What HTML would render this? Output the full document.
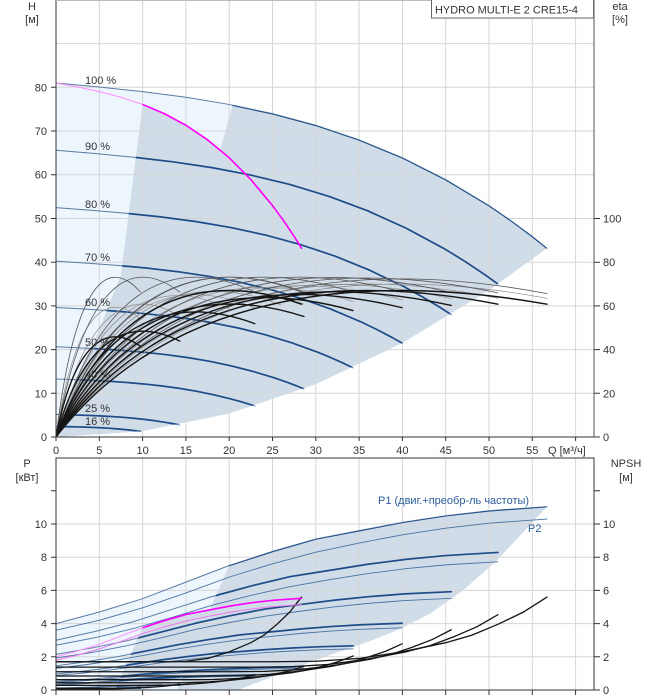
<!DOCTYPE html>
<html><head><meta charset="utf-8">
<style>
html,body{margin:0;padding:0;background:#fff;}
svg{display:block;}
path{vector-effect:non-scaling-stroke;}
text{font-family:"Liberation Sans",Arial,sans-serif;font-size:11px;fill:#333;}
</style></head>
<body>
<svg width="658" height="700" viewBox="0 0 658 700" xmlns="http://www.w3.org/2000/svg">
<defs>
<clipPath id="cT" clipPathUnits="userSpaceOnUse">
<path d="M0,0L15,37.1L20.4,75.95L25,74L30,71.34L35,68L40,63.9L45,58.9L50,52.96L52.5,49.57L55,45.9L56.7,43.2L50,33.6L40,21.5L30,12.1L20,5.38L10,1.34Z"/>
<path d="M0,0L7.5,37.1L10,76.1L12.5,74L15,71.34L17.5,68L20,63.9L22.5,58.9L25,52.96L26.25,49.57L27.5,45.9L28.35,43.2L25,10L10,1.34Z"/>
</clipPath>
<clipPath id="cB" clipPathUnits="userSpaceOnUse">
<path d="M16.4,3.26L20,7.5L25,8.35L30,9.1L35,9.6L40,10.1L45,10.5L50,10.8L56.7,11.05L50.9,7.8L47,6L43.2,4.6L39.4,3.6L35.5,2.8L31.6,2.1L28,1.4L24.5,0.7L21,0L14,0Z"/>
<path d="M8.2,1.63L10,3.75L12.5,4.175L15,4.55L17.5,4.8L20,5.05L22.5,5.25L25,5.4L28.35,5.525L25.45,3.9L23.5,3L21.6,2.3L19.7,1.8L17.75,1.4L15.8,1.05L14,0.7L12.25,0.35L10.5,0L6.8,0Z"/>
</clipPath>
<clipPath id="cM" clipPathUnits="userSpaceOnUse"><rect x="10" y="-5" width="50" height="200"/></clipPath>
</defs>
<rect x="0" y="0" width="658" height="700" fill="#fff"/>

<!-- ===== TOP CHART fills ===== -->
<g transform="translate(56,437) scale(8.66,-4.37)">
<path fill="#edf5fd" d="M0,0L0,81L5,80.08L10,79.03L15,77.74L20,76.1L25,74L30,71.34L35,68L40,63.9L45,58.9L50,52.96L52.5,49.57L55,45.9L56.7,43.2L50,33.6L40,21.5L30,12.1L20,5.38L10,1.34Z"/>
<path fill="#d0dce8" d="M0,0L15,37.1L20.4,75.95L25,74L30,71.34L35,68L40,63.9L45,58.9L50,52.96L52.5,49.57L55,45.9L56.7,43.2L50,33.6L40,21.5L30,12.1L20,5.38L10,1.34Z"/>
<path fill="#d0dce8" d="M0,0L7.5,37.1L10,76.1L12.5,74L15,71.34L17.5,68L20,63.9L22.5,58.9L25,52.96L26.25,49.57L27.5,45.9L28.35,43.2L25,10L10,1.34Z"/>
</g>

<!-- top grid -->
<g stroke="#d6d6d6" stroke-width="1" fill="none">
<path d="M99.3,0V437M142.6,0V437M185.9,0V437M229.2,0V437M272.5,0V437M315.8,0V437M359.1,0V437M402.4,0V437M445.7,0V437M489,0V437M532.3,0V437M575.6,0V437"/>
<path d="M56,393.3H594M56,349.6H594M56,305.9H594M56,262.2H594M56,218.5H594M56,174.7H594M56,131H594M56,87.3H594M56,43.6H594"/>
</g>

<!-- top curves -->
<g transform="translate(56,437) scale(8.66,-4.37)" fill="none" stroke-linejoin="round" stroke-linecap="round">
<g stroke="#5a7ca4" stroke-width="1">
<path d="M0,81L5,80.08L10,79.03L15,77.74L20,76.1L25,74L30,71.34L35,68L40,63.9L45,58.9L50,52.96L52.5,49.57L55,45.9L56.7,43.2"/>
<path transform="scale(0.9,0.81)" d="M0,81L5,80.08L10,79.03L15,77.74L20,76.1L25,74L30,71.34L35,68L40,63.9L45,58.9L50,52.96L52.5,49.57L55,45.9L56.7,43.2"/>
<path transform="scale(0.805,0.648)" d="M0,81L5,80.08L10,79.03L15,77.74L20,76.1L25,74L30,71.34L35,68L40,63.9L45,58.9L50,52.96L52.5,49.57L55,45.9L56.7,43.2"/>
<path transform="scale(0.705,0.497)" d="M0,81L5,80.08L10,79.03L15,77.74L20,76.1L25,74L30,71.34L35,68L40,63.9L45,58.9L50,52.96L52.5,49.57L55,45.9L56.7,43.2"/>
<path transform="scale(0.605,0.366)" d="M0,81L5,80.08L10,79.03L15,77.74L20,76.1L25,74L30,71.34L35,68L40,63.9L45,58.9L50,52.96L52.5,49.57L55,45.9L56.7,43.2"/>
<path transform="scale(0.505,0.255)" d="M0,81L5,80.08L10,79.03L15,77.74L20,76.1L25,74L30,71.34L35,68L40,63.9L45,58.9L50,52.96L52.5,49.57L55,45.9L56.7,43.2"/>
<path transform="scale(0.405,0.164)" d="M0,81L5,80.08L10,79.03L15,77.74L20,76.1L25,74L30,71.34L35,68L40,63.9L45,58.9L50,52.96L52.5,49.57L55,45.9L56.7,43.2"/>
<path transform="scale(0.252,0.0635)" d="M0,81L5,80.08L10,79.03L15,77.74L20,76.1L25,74L30,71.34L35,68L40,63.9L45,58.9L50,52.96L52.5,49.57L55,45.9L56.7,43.2"/>
<path transform="scale(0.172,0.0296)" d="M0,81L5,80.08L10,79.03L15,77.74L20,76.1L25,74L30,71.34L35,68L40,63.9L45,58.9L50,52.96L52.5,49.57L55,45.9L56.7,43.2"/>
</g>
<g clip-path="url(#cT)">
<g stroke="#1d4c88" stroke-width="1.7">
<path d="M0,81L5,80.08L10,79.03L15,77.74L20,76.1L25,74L30,71.34L35,68L40,63.9L45,58.9L50,52.96L52.5,49.57L55,45.9L56.7,43.2"/>
<path transform="scale(0.9,0.81)" d="M0,81L5,80.08L10,79.03L15,77.74L20,76.1L25,74L30,71.34L35,68L40,63.9L45,58.9L50,52.96L52.5,49.57L55,45.9L56.7,43.2"/>
<path transform="scale(0.805,0.648)" d="M0,81L5,80.08L10,79.03L15,77.74L20,76.1L25,74L30,71.34L35,68L40,63.9L45,58.9L50,52.96L52.5,49.57L55,45.9L56.7,43.2"/>
<path transform="scale(0.705,0.497)" d="M0,81L5,80.08L10,79.03L15,77.74L20,76.1L25,74L30,71.34L35,68L40,63.9L45,58.9L50,52.96L52.5,49.57L55,45.9L56.7,43.2"/>
<path transform="scale(0.605,0.366)" d="M0,81L5,80.08L10,79.03L15,77.74L20,76.1L25,74L30,71.34L35,68L40,63.9L45,58.9L50,52.96L52.5,49.57L55,45.9L56.7,43.2"/>
<path transform="scale(0.505,0.255)" d="M0,81L5,80.08L10,79.03L15,77.74L20,76.1L25,74L30,71.34L35,68L40,63.9L45,58.9L50,52.96L52.5,49.57L55,45.9L56.7,43.2"/>
<path transform="scale(0.405,0.164)" d="M0,81L5,80.08L10,79.03L15,77.74L20,76.1L25,74L30,71.34L35,68L40,63.9L45,58.9L50,52.96L52.5,49.57L55,45.9L56.7,43.2"/>
<path transform="scale(0.252,0.0635)" d="M0,81L5,80.08L10,79.03L15,77.74L20,76.1L25,74L30,71.34L35,68L40,63.9L45,58.9L50,52.96L52.5,49.57L55,45.9L56.7,43.2"/>
<path transform="scale(0.172,0.0296)" d="M0,81L5,80.08L10,79.03L15,77.74L20,76.1L25,74L30,71.34L35,68L40,63.9L45,58.9L50,52.96L52.5,49.57L55,45.9L56.7,43.2"/>
</g>
</g>

<!-- efficiency: thin light family -->
<g stroke="#8a8a8a" stroke-width="0.7">
<path transform="scale(9.75,30.3)" d="M0,0C0.2,0.85 0.55,1.15 1,0.889"/>
<path transform="scale(14.29,31)" d="M0,0C0.2,0.85 0.55,1.15 1,0.889"/>
<path transform="scale(22.96,33.2)" d="M0,0C0.2,0.85 0.55,1.15 1,0.889"/>
<path transform="scale(28.63,34.2)" d="M0,0C0.2,0.85 0.55,1.15 1,0.889"/>
<path transform="scale(34.3,34.9)" d="M0,0C0.2,0.85 0.55,1.15 1,0.889"/>
<path transform="scale(39.97,35.3)" d="M0,0C0.2,0.85 0.55,1.15 1,0.889"/>
<path transform="scale(45.64,35.6)" d="M0,0C0.2,0.85 0.55,1.15 1,0.889"/>
<path transform="scale(51.03,35.7)" d="M0,0C0.2,0.85 0.55,1.15 1,0.889"/>
<path transform="scale(56.7,35.7)" d="M0,0C0.2,0.85 0.55,1.15 1,0.889"/>
<path transform="scale(20,33)" d="M0,0C0.2,0.85 0.55,1.15 1,0.889"/>
<path transform="scale(26,34)" d="M0,0C0.2,0.85 0.55,1.15 1,0.889"/>
</g>
<!-- efficiency: thin grey family -->
<g stroke="#555" stroke-width="0.8">
<path transform="scale(9.75,37.3)" d="M0,0C0.2,0.85 0.55,1.15 1,0.889"/>
<path transform="scale(14.29,37.3)" d="M0,0C0.2,0.85 0.55,1.15 1,0.889"/>
<path transform="scale(22.96,37.3)" d="M0,0C0.2,0.85 0.55,1.15 1,0.889"/>
<path transform="scale(28.63,37.3)" d="M0,0C0.2,0.85 0.55,1.15 1,0.889"/>
<path transform="scale(34.3,37.3)" d="M0,0C0.2,0.85 0.55,1.15 1,0.889"/>
<path transform="scale(39.97,37.3)" d="M0,0C0.2,0.85 0.55,1.15 1,0.889"/>
<path transform="scale(45.64,37.2)" d="M0,0C0.2,0.85 0.55,1.15 1,0.889"/>
<path transform="scale(51.03,37.1)" d="M0,0C0.2,0.85 0.55,1.15 1,0.889"/>
<path transform="scale(56.7,36.9)" d="M0,0C0.2,0.85 0.55,1.15 1,0.889"/>
<path transform="scale(28.35,37.3)" d="M0,0C0.2,0.85 0.55,1.15 1,0.889"/>
</g>
<!-- efficiency: thick black family -->
<g stroke="#151515" stroke-width="1.4">
<path transform="scale(9.75,23.37)" d="M0,0C0.2,0.85 0.55,1.15 1,0.889"/>
<path transform="scale(14.29,24.69)" d="M0,0C0.2,0.85 0.55,1.15 1,0.889"/>
<path transform="scale(22.96,29.18)" d="M0,0C0.2,0.85 0.55,1.15 1,0.889"/>
<path transform="scale(28.63,31.02)" d="M0,0C0.2,0.85 0.55,1.15 1,0.889"/>
<path transform="scale(34.3,32.55)" d="M0,0C0.2,0.85 0.55,1.15 1,0.889"/>
<path transform="scale(39.97,33.27)" d="M0,0C0.2,0.85 0.55,1.15 1,0.889"/>
<path transform="scale(45.64,33.88)" d="M0,0C0.2,0.85 0.55,1.15 1,0.889"/>
<path transform="scale(51.03,34.18)" d="M0,0C0.2,0.85 0.55,1.15 1,0.889"/>
<path transform="scale(56.7,34.18)" d="M0,0C0.2,0.85 0.55,1.15 1,0.889"/>
<path transform="scale(28.35,34.18)" d="M0,0C0.2,0.85 0.55,1.15 1,0.889"/>
</g>

<!-- magenta 1-pump curve -->
<path stroke="#ff8cff" stroke-width="1" transform="scale(0.5,1)" d="M0,81L5,80.08L10,79.03L15,77.74L20,76.1L25,74L30,71.34L35,68L40,63.9L45,58.9L50,52.96L52.5,49.57L55,45.9L56.7,43.2"/>
<g clip-path="url(#cM)">
<path stroke="#ff00ff" stroke-width="1.6" transform="scale(0.5,1)" d="M0,81L5,80.08L10,79.03L15,77.74L20,76.1L25,74L30,71.34L35,68L40,63.9L45,58.9L50,52.96L52.5,49.57L55,45.9L56.7,43.2"/>
</g>
</g>

<!-- top axes -->
<g stroke="#333" stroke-width="1" fill="none">
<path d="M56,0V437H594"/>
<path d="M594,0V437" stroke="#555"/>
<path d="M56,0.5H594" stroke="#bbb"/>
<path d="M51,437H56M51,393.3H56M51,349.6H56M51,305.9H56M51,262.2H56M51,218.5H56M51,174.7H56M51,131H56M51,87.3H56"/>
<path d="M594,437H600M594,393.3H600M594,349.6H600M594,305.9H600M594,262.2H600M594,218.5H600"/>
<path d="M56,437V441M99.3,437V441M142.6,437V441M185.9,437V441M229.2,437V441M272.5,437V441M315.8,437V441M359.1,437V441M402.4,437V441M445.7,437V441M489,437V441M532.3,437V441M575.6,437V441"/>
</g>

<!-- title box -->
<rect x="431.5" y="-0.5" width="162" height="18.5" fill="#fff" stroke="#666" stroke-width="1"/>
<text x="435" y="13.5" font-size="10.5" textLength="143" lengthAdjust="spacingAndGlyphs">HYDRO MULTI-E 2 CRE15-4</text>

<!-- top labels -->
<g text-anchor="middle">
<text x="32" y="10">H</text>
<text x="32" y="23">[м]</text>
<text x="620" y="10">eta</text>
<text x="620" y="23">[%]</text>
</g>
<g text-anchor="end">
<text x="47" y="441">0</text>
<text x="47" y="397.3">10</text>
<text x="47" y="353.6">20</text>
<text x="47" y="309.9">30</text>
<text x="47" y="266.2">40</text>
<text x="47" y="222.5">50</text>
<text x="47" y="178.7">60</text>
<text x="47" y="135">70</text>
<text x="47" y="91.3">80</text>
</g>
<g>
<text x="603" y="441">0</text>
<text x="603" y="397.3">20</text>
<text x="603" y="353.6">40</text>
<text x="603" y="309.9">60</text>
<text x="603" y="266.2">80</text>
<text x="603" y="222.5">100</text>
</g>
<g text-anchor="middle">
<text x="56" y="454">0</text>
<text x="99.3" y="454">5</text>
<text x="142.6" y="454">10</text>
<text x="185.9" y="454">15</text>
<text x="229.2" y="454">20</text>
<text x="272.5" y="454">25</text>
<text x="315.8" y="454">30</text>
<text x="359.1" y="454">35</text>
<text x="402.4" y="454">40</text>
<text x="445.7" y="454">45</text>
<text x="489" y="454">50</text>
<text x="532.3" y="454">55</text>
</g>
<text x="548" y="454">Q [м³/ч]</text>
<g>
<text x="85" y="84">100 %</text>
<text x="85" y="150">90 %</text>
<text x="85" y="208">80 %</text>
<text x="85" y="261">70 %</text>
<text x="85" y="306">60 %</text>
<text x="85" y="346">50 %</text>
<text x="85" y="378">40 %</text>
<text x="85" y="412">25 %</text>
<text x="85" y="425">16 %</text>
</g>

<!-- ===== BOTTOM CHART ===== -->
<g transform="translate(56,690) scale(8.66,-16.6)">
<path fill="#edf5fd" d="M0,0L0,4L5,4.7L10,5.5L15,6.5L20,7.5L25,8.35L30,9.1L35,9.6L40,10.1L45,10.5L50,10.8L56.7,11.05L50.9,7.8L47,6L43.2,4.6L39.4,3.6L35.5,2.8L31.6,2.1L28,1.4L24.5,0.7L21,0Z"/>
<path fill="#d0dce8" d="M16.4,3.26L20,7.5L25,8.35L30,9.1L35,9.6L40,10.1L45,10.5L50,10.8L56.7,11.05L50.9,7.8L47,6L43.2,4.6L39.4,3.6L35.5,2.8L31.6,2.1L28,1.4L24.5,0.7L21,0L14,0Z"/>
<path fill="#d0dce8" d="M8.2,1.63L10,3.75L12.5,4.175L15,4.55L17.5,4.8L20,5.05L22.5,5.25L25,5.4L28.35,5.525L25.45,3.9L23.5,3L21.6,2.3L19.7,1.8L17.75,1.4L15.8,1.05L14,0.7L12.25,0.35L10.5,0L6.8,0Z"/>
</g>

<!-- bottom grid -->
<g stroke="#d6d6d6" stroke-width="1" fill="none">
<path d="M99.3,458V690M142.6,458V690M185.9,458V690M229.2,458V690M272.5,458V690M315.8,458V690M359.1,458V690M402.4,458V690M445.7,458V690M489,458V690M532.3,458V690M575.6,458V690"/>
<path d="M56,656.8H594M56,623.6H594M56,590.4H594M56,557.2H594M56,524H594"/>
</g>

<g transform="translate(56,690) scale(8.66,-16.6)" fill="none" stroke-linejoin="round" stroke-linecap="round">
<!-- P2 thin -->
<g stroke="#4a73a5" stroke-width="0.9">
<path d="M0,3.6L5,4.2L10,4.95L15,5.85L20,6.8L25,7.6L30,8.3L35,8.85L40,9.35L45,9.75L50,10.05L56.7,10.3"/>
<path transform="scale(0.9,0.75)" d="M0,3.6L5,4.2L10,4.95L15,5.85L20,6.8L25,7.6L30,8.3L35,8.85L40,9.35L45,9.75L50,10.05L56.7,10.3"/>
<path transform="scale(0.805,0.536)" d="M0,3.6L5,4.2L10,4.95L15,5.85L20,6.8L25,7.6L30,8.3L35,8.85L40,9.35L45,9.75L50,10.05L56.7,10.3"/>
<path transform="scale(0.705,0.364)" d="M0,3.6L5,4.2L10,4.95L15,5.85L20,6.8L25,7.6L30,8.3L35,8.85L40,9.35L45,9.75L50,10.05L56.7,10.3"/>
<path transform="scale(0.605,0.241)" d="M0,3.6L5,4.2L10,4.95L15,5.85L20,6.8L25,7.6L30,8.3L35,8.85L40,9.35L45,9.75L50,10.05L56.7,10.3"/>
<path transform="scale(0.505,0.127)" d="M0,3.6L5,4.2L10,4.95L15,5.85L20,6.8L25,7.6L30,8.3L35,8.85L40,9.35L45,9.75L50,10.05L56.7,10.3"/>
<path transform="scale(0.405,0.082)" d="M0,3.6L5,4.2L10,4.95L15,5.85L20,6.8L25,7.6L30,8.3L35,8.85L40,9.35L45,9.75L50,10.05L56.7,10.3"/>
<path transform="scale(0.252,0.027)" d="M0,3.6L5,4.2L10,4.95L15,5.85L20,6.8L25,7.6L30,8.3L35,8.85L40,9.35L45,9.75L50,10.05L56.7,10.3"/>
<path transform="scale(0.172,0.011)" d="M0,3.6L5,4.2L10,4.95L15,5.85L20,6.8L25,7.6L30,8.3L35,8.85L40,9.35L45,9.75L50,10.05L56.7,10.3"/>
</g>
<!-- P1 thin (light region) -->
<g stroke="#5a7ca4" stroke-width="1">
<path d="M0,4L5,4.7L10,5.5L15,6.5L20,7.5L25,8.35L30,9.1L35,9.6L40,10.1L45,10.5L50,10.8L56.7,11.05"/>
<path transform="scale(0.9,0.75)" d="M0,4L5,4.7L10,5.5L15,6.5L20,7.5L25,8.35L30,9.1L35,9.6L40,10.1L45,10.5L50,10.8L56.7,11.05"/>
<path transform="scale(0.805,0.536)" d="M0,4L5,4.7L10,5.5L15,6.5L20,7.5L25,8.35L30,9.1L35,9.6L40,10.1L45,10.5L50,10.8L56.7,11.05"/>
<path transform="scale(0.705,0.364)" d="M0,4L5,4.7L10,5.5L15,6.5L20,7.5L25,8.35L30,9.1L35,9.6L40,10.1L45,10.5L50,10.8L56.7,11.05"/>
<path transform="scale(0.605,0.241)" d="M0,4L5,4.7L10,5.5L15,6.5L20,7.5L25,8.35L30,9.1L35,9.6L40,10.1L45,10.5L50,10.8L56.7,11.05"/>
<path transform="scale(0.505,0.127)" d="M0,4L5,4.7L10,5.5L15,6.5L20,7.5L25,8.35L30,9.1L35,9.6L40,10.1L45,10.5L50,10.8L56.7,11.05"/>
<path transform="scale(0.405,0.082)" d="M0,4L5,4.7L10,5.5L15,6.5L20,7.5L25,8.35L30,9.1L35,9.6L40,10.1L45,10.5L50,10.8L56.7,11.05"/>
<path transform="scale(0.252,0.027)" d="M0,4L5,4.7L10,5.5L15,6.5L20,7.5L25,8.35L30,9.1L35,9.6L40,10.1L45,10.5L50,10.8L56.7,11.05"/>
<path transform="scale(0.172,0.011)" d="M0,4L5,4.7L10,5.5L15,6.5L20,7.5L25,8.35L30,9.1L35,9.6L40,10.1L45,10.5L50,10.8L56.7,11.05"/>
</g>
<g clip-path="url(#cB)">
<g stroke="#1d4c88" stroke-width="1.7">
<path d="M0,4L5,4.7L10,5.5L15,6.5L20,7.5L25,8.35L30,9.1L35,9.6L40,10.1L45,10.5L50,10.8L56.7,11.05"/>
<path transform="scale(0.9,0.75)" d="M0,4L5,4.7L10,5.5L15,6.5L20,7.5L25,8.35L30,9.1L35,9.6L40,10.1L45,10.5L50,10.8L56.7,11.05"/>
<path transform="scale(0.805,0.536)" d="M0,4L5,4.7L10,5.5L15,6.5L20,7.5L25,8.35L30,9.1L35,9.6L40,10.1L45,10.5L50,10.8L56.7,11.05"/>
<path transform="scale(0.705,0.364)" d="M0,4L5,4.7L10,5.5L15,6.5L20,7.5L25,8.35L30,9.1L35,9.6L40,10.1L45,10.5L50,10.8L56.7,11.05"/>
<path transform="scale(0.605,0.241)" d="M0,4L5,4.7L10,5.5L15,6.5L20,7.5L25,8.35L30,9.1L35,9.6L40,10.1L45,10.5L50,10.8L56.7,11.05"/>
<path transform="scale(0.505,0.127)" d="M0,4L5,4.7L10,5.5L15,6.5L20,7.5L25,8.35L30,9.1L35,9.6L40,10.1L45,10.5L50,10.8L56.7,11.05"/>
<path transform="scale(0.405,0.082)" d="M0,4L5,4.7L10,5.5L15,6.5L20,7.5L25,8.35L30,9.1L35,9.6L40,10.1L45,10.5L50,10.8L56.7,11.05"/>
<path transform="scale(0.252,0.027)" d="M0,4L5,4.7L10,5.5L15,6.5L20,7.5L25,8.35L30,9.1L35,9.6L40,10.1L45,10.5L50,10.8L56.7,11.05"/>
<path transform="scale(0.172,0.011)" d="M0,4L5,4.7L10,5.5L15,6.5L20,7.5L25,8.35L30,9.1L35,9.6L40,10.1L45,10.5L50,10.8L56.7,11.05"/>
</g>
</g>

<!-- NPSH black -->
<g stroke="#151515" stroke-width="1.3">
<path d="M0,1.7L25,1.7L30,1.73L35,1.9L40,2.3L45,2.85L48,3.3L51,3.95L54,4.7L56.7,5.6"/>
<path transform="scale(0.9,0.81)" d="M0,1.7L25,1.7L30,1.73L35,1.9L40,2.3L45,2.85L48,3.3L51,3.95L54,4.7L56.7,5.6"/>
<path transform="scale(0.805,0.648)" d="M0,1.7L25,1.7L30,1.73L35,1.9L40,2.3L45,2.85L48,3.3L51,3.95L54,4.7L56.7,5.6"/>
<path transform="scale(0.705,0.497)" d="M0,1.7L25,1.7L30,1.73L35,1.9L40,2.3L45,2.85L48,3.3L51,3.95L54,4.7L56.7,5.6"/>
<path transform="scale(0.605,0.366)" d="M0,1.7L25,1.7L30,1.73L35,1.9L40,2.3L45,2.85L48,3.3L51,3.95L54,4.7L56.7,5.6"/>
<path transform="scale(0.505,0.255)" d="M0,1.7L25,1.7L30,1.73L35,1.9L40,2.3L45,2.85L48,3.3L51,3.95L54,4.7L56.7,5.6"/>
<path transform="scale(0.405,0.164)" d="M0,1.7L25,1.7L30,1.73L35,1.9L40,2.3L45,2.85L48,3.3L51,3.95L54,4.7L56.7,5.6"/>
<path transform="scale(0.252,0.0635)" d="M0,1.7L25,1.7L30,1.73L35,1.9L40,2.3L45,2.85L48,3.3L51,3.95L54,4.7L56.7,5.6"/>
<path transform="scale(0.172,0.0296)" d="M0,1.7L25,1.7L30,1.73L35,1.9L40,2.3L45,2.85L48,3.3L51,3.95L54,4.7L56.7,5.6"/>
<path transform="scale(0.5,1)" d="M0,1.7L25,1.7L30,1.73L35,1.9L40,2.3L45,2.85L48,3.3L51,3.95L54,4.7L56.7,5.6"/>
</g>

<!-- magenta bottom -->
<path stroke="#ee77ee" stroke-width="1" transform="scale(0.5,0.5)" d="M0,3.6L5,4.2L10,4.95L15,5.85L20,6.8L25,7.6L30,8.3L35,8.85L40,9.35L45,9.75L50,10.05L56.7,10.3"/>
<path stroke="#ff8cff" stroke-width="1" transform="scale(0.5,0.5)" d="M0,4L5,4.7L10,5.5L15,6.5L20,7.5L25,8.35L30,9.1L35,9.6L40,10.1L45,10.5L50,10.8L56.7,11.05"/>
<g clip-path="url(#cM)">
<path stroke="#ff00ff" stroke-width="1.6" transform="scale(0.5,0.5)" d="M0,4L5,4.7L10,5.5L15,6.5L20,7.5L25,8.35L30,9.1L35,9.6L40,10.1L45,10.5L50,10.8L56.7,11.05"/>
</g>
</g>

<!-- bottom axes -->
<g stroke="#333" stroke-width="1" fill="none">
<path d="M56,458H594V690H56Z"/>
<path d="M51,690H56M51,656.8H56M51,623.6H56M51,590.4H56M51,557.2H56M51,524H56M51,490.8H56"/>
<path d="M594,690H600M594,656.8H600M594,623.6H600M594,590.4H600M594,557.2H600M594,524H600M594,490.8H600"/>
<path d="M56,690V695M99.3,690V695M142.6,690V695M185.9,690V695M229.2,690V695M272.5,690V695M315.8,690V695M359.1,690V695M402.4,690V695M445.7,690V695M489,690V695M532.3,690V695M575.6,690V695"/>
</g>

<g text-anchor="middle">
<text x="27" y="467">P</text>
<text x="27" y="481">[кВт]</text>
<text x="626" y="467">NPSH</text>
<text x="626" y="481">[м]</text>
</g>
<g text-anchor="end">
<text x="47" y="694">0</text>
<text x="47" y="660.8">2</text>
<text x="47" y="627.6">4</text>
<text x="47" y="594.4">6</text>
<text x="47" y="561.2">8</text>
<text x="47" y="528">10</text>
</g>
<g>
<text x="603" y="694">0</text>
<text x="603" y="660.8">2</text>
<text x="603" y="627.6">4</text>
<text x="603" y="594.4">6</text>
<text x="603" y="561.2">8</text>
<text x="603" y="528">10</text>
</g>
<text x="378" y="504" style="fill:#2c5c9c">P1 (двиг.+преобр-ль частоты)</text>
<text x="528" y="532" style="fill:#2c5c9c">P2</text>
</svg>
</body></html>
